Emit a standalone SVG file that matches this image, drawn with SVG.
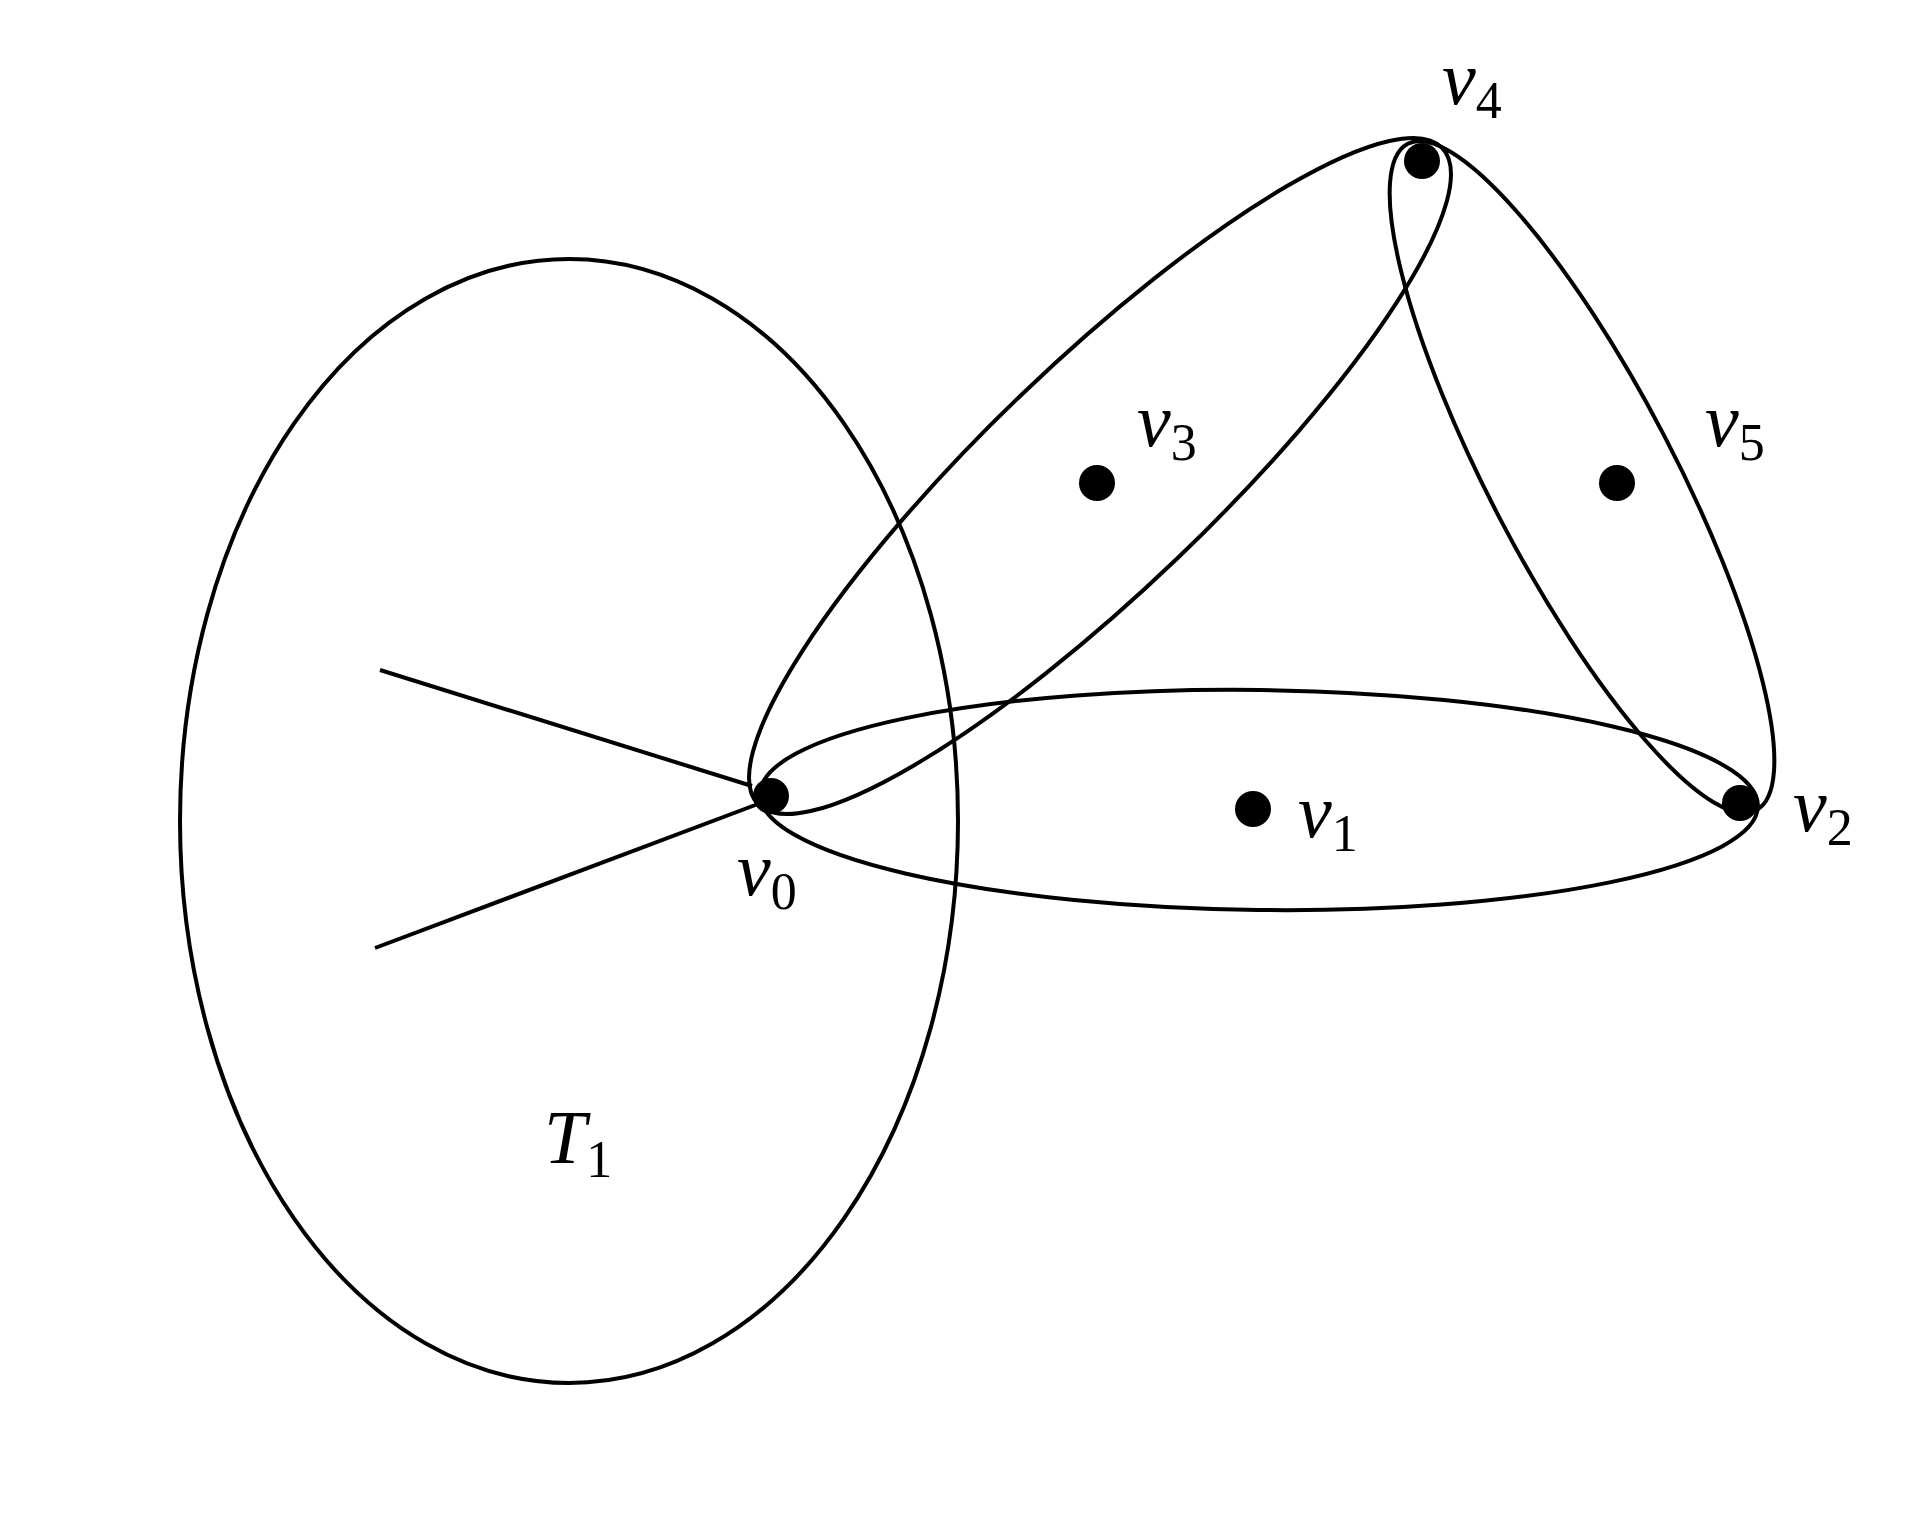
<svg xmlns="http://www.w3.org/2000/svg" width="1916" height="1520" viewBox="0 0 1916 1520">
<style>
.c{fill:none;stroke:#000;stroke-width:4}
.d{fill:#000}
.t{font-family:"Liberation Serif",serif;font-style:italic;font-size:76px}
.s{font-style:normal;font-size:52px}
</style>
<rect width="1916" height="1520" fill="#fff"/>
<g id="connectors">
<ellipse class="c" cx="569" cy="821" rx="389" ry="562"/>
<ellipse class="c" cx="1259" cy="800" rx="499" ry="110" transform="rotate(0.7 1259 800)"/>
<ellipse class="c" cx="1100" cy="476" rx="474" ry="113" transform="rotate(-43.8 1100 476)"/>
<ellipse class="c" cx="1582" cy="477" rx="376" ry="92" transform="rotate(62.4 1582 477)"/>
<line class="c" x1="380" y1="670" x2="752" y2="786"/>
<line class="c" x1="375" y1="948" x2="758" y2="804"/>
</g>
<g id="v0"><circle class="d" cx="771" cy="796" r="18"/><text class="t" x="737" y="895">v<tspan class="s" dy="14">0</tspan></text></g>
<g id="v1"><circle class="d" cx="1253" cy="809" r="18"/><text class="t" x="1298" y="837">v<tspan class="s" dy="14">1</tspan></text></g>
<g id="v2"><circle class="d" cx="1740" cy="803" r="18"/><text class="t" x="1793" y="831">v<tspan class="s" dy="14">2</tspan></text></g>
<g id="v3"><circle class="d" cx="1097" cy="483" r="18"/><text class="t" x="1137" y="446">v<tspan class="s" dy="14">3</tspan></text></g>
<g id="v4"><circle class="d" cx="1422" cy="161" r="18"/><text class="t" x="1442" y="104">v<tspan class="s" dy="14">4</tspan></text></g>
<g id="v5"><circle class="d" cx="1617" cy="483" r="18"/><text class="t" x="1705" y="446">v<tspan class="s" dy="14">5</tspan></text></g>
<g id="T1"><text class="t" x="544" y="1163">T<tspan class="s" dy="14">1</tspan></text></g>
</svg>
